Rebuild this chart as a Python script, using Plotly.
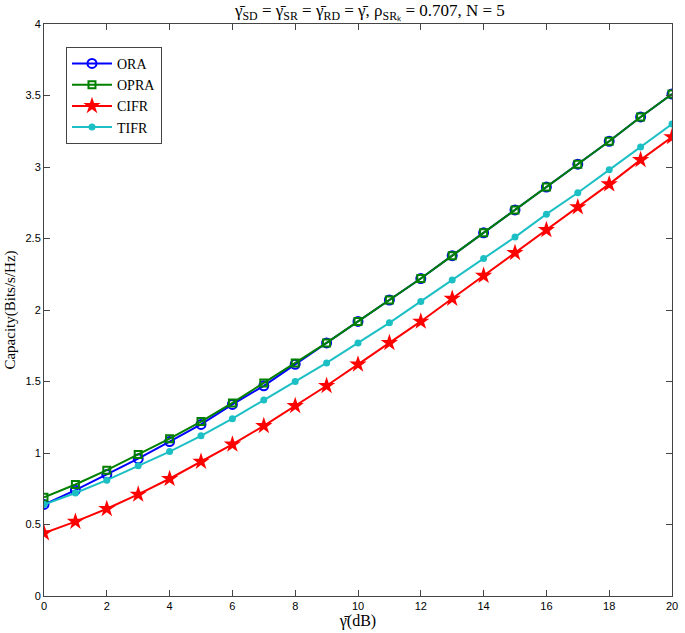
import plotly.graph_objects as go

snr_db = list(range(0, 21))

ora = [0.64, 0.74, 0.85, 0.96, 1.08, 1.20, 1.34, 1.47, 1.62, 1.77, 1.92,
       2.07, 2.22, 2.38, 2.54, 2.70, 2.86, 3.02, 3.18, 3.35, 3.51]
opra = [0.69, 0.78, 0.88, 0.99, 1.10, 1.22, 1.35, 1.49, 1.63, 1.77, 1.92,
        2.07, 2.22, 2.38, 2.54, 2.70, 2.86, 3.02, 3.18, 3.35, 3.51]
cifr = [0.44, 0.52, 0.61, 0.71, 0.82, 0.94, 1.06, 1.19, 1.33, 1.47, 1.62,
        1.77, 1.92, 2.08, 2.24, 2.40, 2.56, 2.72, 2.88, 3.05, 3.21]
tifr = [0.64, 0.72, 0.81, 0.91, 1.01, 1.12, 1.24, 1.37, 1.50, 1.63, 1.77,
        1.91, 2.06, 2.21, 2.36, 2.51, 2.67, 2.82, 2.98, 3.14, 3.30]

x_ticks = list(range(0, 21, 2))
y_ticks = [0, 0.5, 1, 1.5, 2, 2.5, 3, 3.5, 4]
y_tick_text = ['0', '0.5', '1', '1.5', '2', '2.5', '3', '3.5', '4']

serif = 'Liberation Serif, Times New Roman, serif'

fig = go.Figure()

# ORA - blue open circles
fig.add_trace(go.Scatter(
    x=snr_db, y=ora, mode='lines+markers', name='ORA',
    line=dict(color='#0000FF', width=2),
    marker=dict(symbol='circle-open', size=9, color='#0000FF', line=dict(width=2))
))

# OPRA - green open squares
fig.add_trace(go.Scatter(
    x=snr_db, y=opra, mode='lines+markers', name='OPRA',
    line=dict(color='#008000', width=2),
    marker=dict(symbol='square-open', size=7, color='#008000', line=dict(width=2))
))

# CIFR - red stars
fig.add_trace(go.Scatter(
    x=snr_db, y=cifr, mode='lines+markers', name='CIFR',
    line=dict(color='#FF0000', width=2),
    marker=dict(symbol='star', size=13, color='#FF0000')
))

# TIFR - cyan dots
fig.add_trace(go.Scatter(
    x=snr_db, y=tifr, mode='lines+markers', name='TIFR',
    line=dict(color='#1CBFC4', width=2),
    marker=dict(symbol='circle', size=7, color='#1CBFC4')
))

axis_common = dict(
    showgrid=False, zeroline=False, mirror='ticks', ticks='inside', ticklen=6,
    showline=True, linecolor='#444', linewidth=1, tickcolor='#444',
    ticklabeloverflow='allow',
    tickfont=dict(family='Liberation Sans, Arial', size=11, color='black'),
)

fig.update_layout(
    width=685, height=633,
    paper_bgcolor='white', plot_bgcolor='white',
    margin=dict(l=44, r=7, t=24, b=37),
    title=dict(
        text='γ̄<sub>SD</sub> = γ̄<sub>SR</sub> = γ̄<sub>RD</sub> = γ̄, ρ<sub>SRₖ</sub> = 0.707, N = 5',
        x=0.54, xanchor='center', y=0.984, yanchor='middle',
        font=dict(family=serif, size=17, color='black')
    ),
    xaxis=dict(range=[0, 20], tickvals=x_ticks,
               title=dict(text='γ̄(dB)', standoff=0,
                          font=dict(family=serif, size=16, color='black')),
               **axis_common),
    yaxis=dict(range=[0, 4], tickvals=y_ticks, ticktext=y_tick_text,
               title=dict(text='Capacity(Bits/s/Hz)', standoff=6,
                          font=dict(family=serif, size=15, color='black')),
               **axis_common),
    legend=dict(
        x=0.035, y=0.96, xanchor='left', yanchor='top',
        bgcolor='white', bordercolor='#444', borderwidth=1,
        font=dict(family=serif, size=14, color='black'),
        tracegroupgap=0, itemwidth=40
    ),
)

# drop the page's default body margin so the figure sits at the window corner
fig.write_html("out.html", config={'displayModeBar': False},
               post_script="document.body.style.margin = '0';")
